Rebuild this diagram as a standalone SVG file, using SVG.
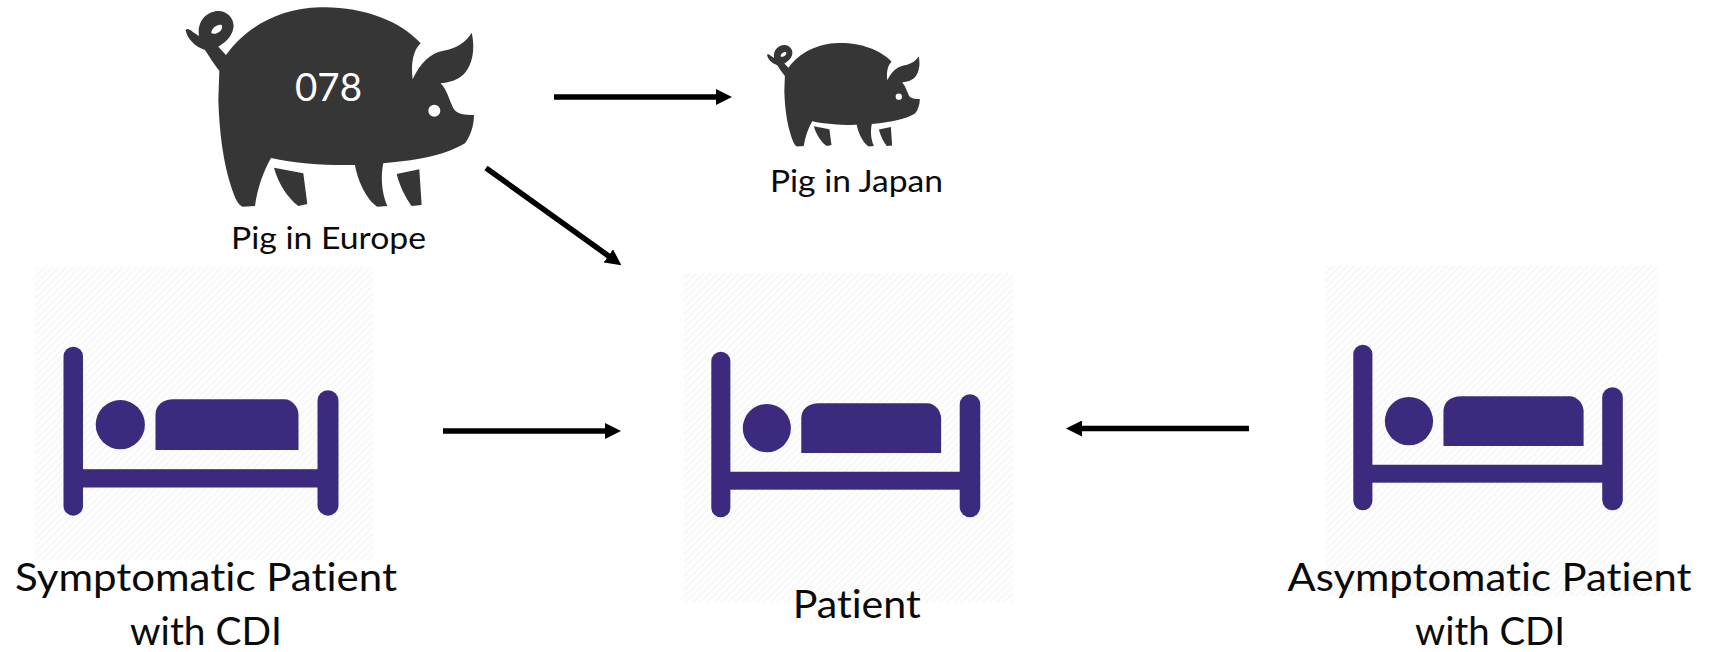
<svg xmlns="http://www.w3.org/2000/svg" width="1713" height="652" viewBox="0 0 1713 652">
<style>
text{font-family:"Lato","Open Sans","Liberation Sans",sans-serif;fill:#0a0a0a;text-anchor:middle;font-variant-ligatures:none}
.lg{font-size:38px}.md{font-size:31px}
.bed{fill:#3b2a7e}.pig{fill:#363636}
.bg{fill:url(#hatch)}
.arrow{stroke:#000;stroke-width:5.5;fill:none;marker-end:url(#head)}
</style>
<defs>
<pattern id="hatch" width="5" height="5" patternUnits="userSpaceOnUse" patternTransform="rotate(-45)"><rect width="5" height="5" fill="#fefefe"/><rect width="5" height="1.6" fill="#f6f6f6"/></pattern>
<marker id="head" viewBox="0 0 16 16" refX="2" refY="8" markerWidth="16" markerHeight="16" markerUnits="userSpaceOnUse" orient="auto"><path d="M0 0L16 8L0 16Z" fill="#000"/></marker>
<g id="pigShape">
<path class="pig" fill-rule="evenodd" d="M172 160C230 80 330 25 450 22C570 18 690 60 752 130C730 150 722 190 728 238C750 190 780 160 820 152C860 145 890 125 905 98C918 150 905 210 870 232C850 245 830 248 812 250C830 268 838 300 850 325C862 345 885 345 912 345C912 380 900 410 885 430C830 462 760 480 640 490C630 540 638 585 652 618L622 620C590 600 562 540 555 495C480 497 380 492 303 474C280 515 262 565 255 618L218 620C204 615 195 595 185 565C160 490 148 400 145 300L148 212C130 190 115 165 105 150C75 140 50 115 47 90C55 80 65 95 87 108C80 65 110 33 145 33C175 33 195 60 190 85C185 112 165 128 145 140L168 165ZM124 100C124 84 142 72 155 75C162 88 142 106 124 100Z"/>
<path class="pig" d="M312 503L400 520L412 612L385 618C350 590 325 550 312 503ZM680 522L748 508L755 615L725 618C705 590 690 560 680 522Z"/>
<circle cx="793" cy="332" r="18" fill="#fff"/>
</g>
<g id="bedShape">
<rect class="bed" x="0" y="0" width="19.5" height="169" rx="9.7"/>
<rect class="bed" x="254" y="43.5" width="21" height="125.5" rx="10.5"/>
<rect class="bed" x="10" y="122.5" width="255" height="18.3"/>
<circle class="bed" cx="56.8" cy="78" r="24.6"/>
<path class="bed" d="M92 103.3V68C92 58 100 52.6 110 52.6H221C228 52.6 235 60 235 68V103.3Z"/>
</g>
</defs>
<g id="pig-europe">
<g transform="translate(170 0) scale(.3333)"><use href="#pigShape"/></g>
<text class="lg" x="328.5" y="100.5" textLength="67" lengthAdjust="spacingAndGlyphs" style="fill:#fff;font-size:39px">078</text>
<text class="md" x="328.5" y="249" textLength="195" lengthAdjust="spacingAndGlyphs">Pig in Europe</text>
</g>
<g id="pig-japan">
<g transform="translate(758.7 39.2) scale(.1767 .173)"><use href="#pigShape"/></g>
<text class="md" x="856.5" y="191.5" textLength="173" lengthAdjust="spacingAndGlyphs">Pig in Japan</text>
</g>
<g id="patient-symptomatic">
<rect class="bg" x="35" y="267" width="338" height="293"/>
<g transform="translate(63.5 346.7)"><use href="#bedShape"/></g>
<text class="lg" x="206" y="590.5" textLength="382" lengthAdjust="spacingAndGlyphs">Symptomatic Patient</text>
<text class="lg" x="206" y="645" textLength="152" lengthAdjust="spacingAndGlyphs">with CDI</text>
</g>
<g id="patient">
<rect class="bg" x="684" y="273" width="329" height="330"/>
<g transform="translate(711.3 351.7) scale(.978 .98)"><use href="#bedShape"/></g>
<text class="lg" x="856.7" y="618" textLength="128" lengthAdjust="spacingAndGlyphs">Patient</text>
</g>
<g id="patient-asymptomatic">
<rect class="bg" x="1325" y="266" width="332" height="330"/>
<g transform="translate(1353.3 344.7) scale(.98 .98)"><use href="#bedShape"/></g>
<text class="lg" x="1489.5" y="590.5" textLength="404" lengthAdjust="spacingAndGlyphs">Asymptomatic Patient</text>
<text class="lg" x="1490" y="645" textLength="150" lengthAdjust="spacingAndGlyphs">with CDI</text>
</g>
<g id="connectors">
<line class="arrow" x1="554" y1="97" x2="718" y2="97"/>
<line class="arrow" x1="486" y1="168" x2="610" y2="257"/>
<line class="arrow" x1="443" y1="431" x2="607" y2="431"/>
<line class="arrow" x1="1249" y1="428.5" x2="1080" y2="428.5"/>
</g>
</svg>
